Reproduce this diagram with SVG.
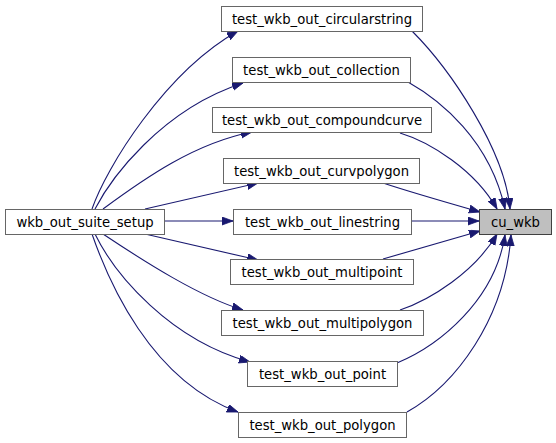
<svg xmlns="http://www.w3.org/2000/svg" width="556" height="443" viewBox="0 0 556 443">
<style>
.node rect{fill:#ffffff;stroke:#666666;stroke-width:1}
.cur rect{fill:#bfbfbf;stroke:#404040;stroke-width:1}
text{font-family:"DejaVu Sans","Liberation Sans",sans-serif;font-size:13.2px;fill:#000000;text-anchor:middle}
.edges path{fill:none;stroke:#191970;stroke-width:1.1;marker-end:url(#ah)}
</style>
<defs>
<marker id="ah" markerUnits="userSpaceOnUse" markerWidth="12" markerHeight="9" refX="11" refY="4" orient="auto" viewBox="0 0 12 9">
<path d="M0,0 L11,4 L0,8 z" fill="#191970" stroke="#191970" stroke-width="0.8"/>
</marker>
</defs>
<rect x="0" y="0" width="556" height="443" fill="#ffffff"/>
<g id="edges" class="edges">
<path d="M92,209 C106,168 165,72 238,31"/>
<path d="M95,209 C110,180 160,110 243,83"/>
<path d="M103,209 C145,178 195,143 252,132"/>
<path d="M145,209 C175,202 215,193 258,183"/>
<path d="M164,221 L233,221"/>
<path d="M145,234 C175,241 215,250 258,260"/>
<path d="M103,234 C145,262 200,297 243,310"/>
<path d="M95,234 C115,275 170,340 250,362"/>
<path d="M92,234 C108,280 150,380 238,412"/>
<path d="M412,31 C450,69 505,150 510,209"/>
<path d="M408,82 C440,100 490,140 505,209"/>
<path d="M400,133 C430,142 475,170 497,209"/>
<path d="M383,183 C410,192 445,202 480,212"/>
<path d="M411,221 L479,221"/>
<path d="M383,259 C410,251 445,241 480,231"/>
<path d="M400,310 C430,300 475,272 497,234"/>
<path d="M397,363 C440,345 495,300 505,235"/>
<path d="M407,412 C455,385 505,320 511,235"/>
</g>
<g id="node_circularstring" class="node"><rect x="221.5" y="6.5" width="201" height="25"/><text x="322" y="23.5">test_wkb_out_circularstring</text></g>
<g id="node_collection" class="node"><rect x="232.5" y="57.5" width="178" height="25"/><text x="321.5" y="74.5">test_wkb_out_collection</text></g>
<g id="node_compoundcurve" class="node"><rect x="212.5" y="107.5" width="219" height="25"/><text x="322" y="124.5">test_wkb_out_compoundcurve</text></g>
<g id="node_curvpolygon" class="node"><rect x="223.5" y="158.5" width="196" height="25"/><text x="321.5" y="175.5">test_wkb_out_curvpolygon</text></g>
<g id="node_linestring" class="node"><rect x="233.5" y="209.5" width="178" height="25"/><text x="322.5" y="226.5">test_wkb_out_linestring</text></g>
<g id="node_multipoint" class="node"><rect x="230.5" y="259.5" width="183" height="25"/><text x="322" y="276.5">test_wkb_out_multipoint</text></g>
<g id="node_multipolygon" class="node"><rect x="221.5" y="310.5" width="202" height="25"/><text x="322.5" y="327.5">test_wkb_out_multipolygon</text></g>
<g id="node_point" class="node"><rect x="247.5" y="361.5" width="150" height="25"/><text x="322.5" y="378.5">test_wkb_out_point</text></g>
<g id="node_polygon" class="node"><rect x="238.5" y="412.5" width="168" height="25"/><text x="322.5" y="429.5">test_wkb_out_polygon</text></g>
<g id="node_setup" class="node"><rect x="5.5" y="209.5" width="159" height="25"/><text x="85" y="226.5">wkb_out_suite_setup</text></g>
<g id="node_cu_wkb" class="cur"><rect x="479.5" y="209.5" width="72" height="25"/><text x="515.5" y="226.5">cu_wkb</text></g>
</svg>
